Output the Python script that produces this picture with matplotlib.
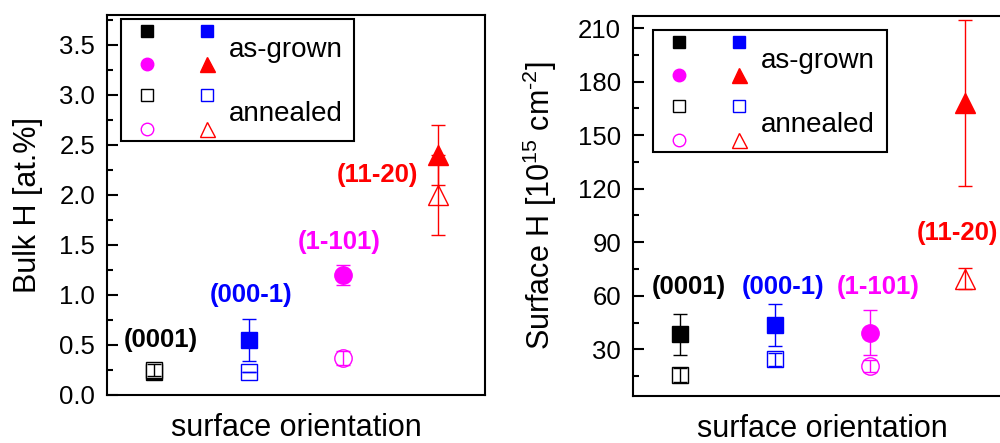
import numpy as np
import matplotlib
matplotlib.use('Agg')
import matplotlib.pyplot as plt
from matplotlib.lines import Line2D
from matplotlib.legend_handler import HandlerBase
from matplotlib.ticker import MultipleLocator

plt.rcParams['font.family'] = ['Liberation Sans', 'DejaVu Sans']
plt.rcParams['mathtext.fontset'] = 'custom'
plt.rcParams['mathtext.rm'] = 'Liberation Sans'

# surface orientations
orient = ['(0001)', '(000-1)', '(1-101)', '(11-20)']
xpos = [1, 2, 3, 4]

# bulk H [at.%]
bulk_grown = [0.23, 0.55, 1.20, 2.40]
bulk_grown_err = [0.0, 0.21, 0.10, 0.30]
bulk_ann = [0.25, 0.23, 0.37, 2.00]
bulk_ann_err = [0.06, 0.0, 0.07, 0.40]

# surface H [1e15 cm^-2]
surf_grown = [38.5, 43.6, 39.3, 168.0]
surf_grown_err = [11.5, 12.0, 12.6, 46.5]
surf_ann = [15.5, 24.4, 20.7, 69.6]
surf_ann_err = [4.0, 3.5, 3.5, 6.0]

# where the orientation labels sit (data coords)
bulk_lbl_x = [1.07, 2.02, 2.96, 3.36]
bulk_lbl_y = [0.55, 1.00, 1.53, 2.20]
surf_lbl_x = [1.09, 2.08, 3.09, 3.92]
surf_lbl_y = [65, 65, 65, 95]

colors = ['black', 'blue', 'magenta', 'red']
markers = ['s', 's', 'o', '^']
msize = [11.5, 11.5, 12.5, 15]


# legend key: 2x2 grid of markers per entry
class QuadHandler(HandlerBase):
    def create_artists(self, legend, orig_handle, xdescent, ydescent,
                       width, height, fontsize, trans):
        cx = [-xdescent + 0.52 * fontsize, -xdescent + 2.70 * fontsize]
        yc = -ydescent + height / 2
        cy = [yc + 0.6 * fontsize, yc - 0.6 * fontsize]
        out = []
        for k, h in enumerate(orig_handle):
            ln = Line2D([cx[k % 2]], [cy[k // 2]], linestyle='none',
                        marker=h.get_marker(), markersize=h.get_markersize() * 0.72,
                        markerfacecolor=h.get_markerfacecolor(),
                        markeredgecolor=h.get_markeredgecolor(),
                        markeredgewidth=h.get_markeredgewidth(),
                        transform=trans)
            out.append(ln)
        return out


def draw_panel(ax, grown, grown_err, ann, ann_err, lbl_x, lbl_y):
    grown_h = []
    ann_h = []
    for i in range(len(orient)):
        ax.errorbar(xpos[i], grown[i], yerr=grown_err[i], fmt='none', ecolor=colors[i],
                    elinewidth=1, capsize=5, capthick=1, zorder=2)
        h, = ax.plot(xpos[i], grown[i], ls='none', marker=markers[i], ms=msize[i],
                     color=colors[i], mew=1, zorder=3)
        grown_h.append(h)
        h2, = ax.plot(xpos[i], ann[i], ls='none', marker=markers[i], ms=msize[i],
                      mfc='white', mec=colors[i], mew=1, zorder=3.5)
        ann_h.append(h2)
        ax.errorbar(xpos[i], ann[i], yerr=ann_err[i], fmt='none', ecolor=colors[i],
                    elinewidth=1, capsize=5, capthick=1, zorder=4)
        ax.text(lbl_x[i], lbl_y[i], orient[i], color=colors[i], fontsize=18.5,
                fontweight='bold', ha='center', va='center')

    ax.set_xlim(0.5, 4.5)
    ax.set_xticks([])
    for s in ax.spines.values():
        s.set_linewidth(1.5)
    ax.tick_params(axis='y', which='both', direction='in', width=1.5,
                   labelsize=18.5, pad=8.5)
    ax.tick_params(axis='y', which='major', length=8)
    ax.tick_params(axis='y', which='minor', length=4)
    ax.set_xlabel('surface orientation', fontsize=22, labelpad=13)
    return tuple(grown_h), tuple(ann_h)


fig = plt.figure(figsize=(10, 4.43), dpi=100)
ax1 = fig.add_axes([0.107, 0.1084, 0.378, 0.858])
ax2 = fig.add_axes([0.633, 0.1068, 0.379, 0.858])

g1, a1 = draw_panel(ax1, bulk_grown, bulk_grown_err, bulk_ann, bulk_ann_err,
                    bulk_lbl_x, bulk_lbl_y)
ax1.set_ylim(0, 3.8)
ax1.yaxis.set_major_locator(MultipleLocator(0.5))
ax1.yaxis.set_minor_locator(MultipleLocator(0.25))
ax1.yaxis.set_major_formatter(plt.FormatStrFormatter('%.1f'))
ax1.set_ylabel('Bulk H [at.%]', fontsize=22, labelpad=12)

g2, a2 = draw_panel(ax2, surf_grown, surf_grown_err, surf_ann, surf_ann_err,
                    surf_lbl_x, surf_lbl_y)
ax2.set_ylim(4, 217)
ax2.yaxis.set_major_locator(MultipleLocator(30))
ax2.yaxis.set_minor_locator(MultipleLocator(15))
ax2.set_ylabel(r'Surface H [10$^{\mathregular{15}}$ cm$^{\text{-2}}$]',
               fontsize=22, labelpad=14)

for ax, g, a, anchor in [(ax1, g1, a1, (0.036, 0.9895)),
                         (ax2, g2, a2, (0.052, 0.962))]:
    leg = ax.legend([g, a], ['as-grown', 'annealed'], handler_map={tuple: QuadHandler()},
                    loc='upper left', bbox_to_anchor=anchor, borderaxespad=0,
                    fontsize=20, handlelength=3.1, handleheight=1.5, handletextpad=0.38,
                    labelspacing=1.1, borderpad=0.42, fancybox=False, framealpha=1)
    leg.get_frame().set_edgecolor('black')
    leg.get_frame().set_linewidth(1.5)

fig.savefig('out.png', dpi=100)
